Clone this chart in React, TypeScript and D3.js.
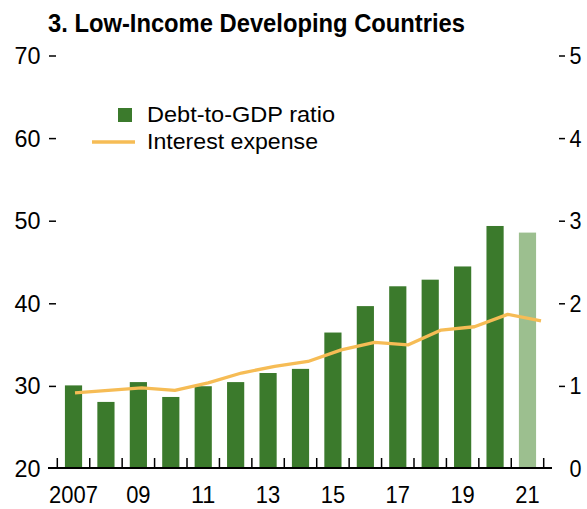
import React from "react";
import * as d3 from "d3";

const years = ["2007","2008","2009","2010","2011","2012","2013","2014","2015","2016","2017","2018","2019","2020","2021"];
const debtToGDP = [30.0, 28.0, 30.4, 28.6, 29.9, 30.4, 31.5, 32.0, 36.4, 39.6, 42.0, 42.8, 44.4, 49.3, 48.5];
const interestExpense = [0.91, 0.94, 0.97, 0.94, 1.03, 1.15, 1.23, 1.29, 1.43, 1.52, 1.49, 1.67, 1.71, 1.86, 1.78];
const xTickLabels: Record<string, string> = { "2007": "2007", "2009": "09", "2011": "11", "2013": "13", "2015": "15", "2017": "17", "2019": "19", "2021": "21" };
const leftTicks = [20, 30, 40, 50, 60, 70];
const rightTicks = [0, 1, 2, 3, 4, 5];
const title = "3. Low-Income Developing Countries";
const legendLabels = ["Debt-to-GDP ratio", "Interest expense"];
const projectionYear = "2021";

const W = 587, H = 509;
const FONT = "'Liberation Sans Narrow', 'Arial Narrow', 'Liberation Sans', Arial, sans-serif";
const GREEN = "#3b7a2c";
const LIGHT_GREEN = "#9cbf8f";
const ORANGE = "#f6bc55";
const DIGIT_W = 12.2;
const AX_FS = 24.5;

export default function App() {
  const x = d3.scaleBand<string>().domain(years).range([57.3, 543.7]).paddingInner(0.47).paddingOuter(0.235);
  const xLine = d3.scalePoint<string>().domain(years).range([75, 541]);
  const yL = d3.scaleLinear().domain([20, 70]).range([468, 55]);
  const yR = d3.scaleLinear().domain([0, 5]).range([468, 55]);
  const step = x.step();
  const r0 = x.range()[0];
  const boundaries = d3.range(years.length + 1).map((i) => r0 + i * step);
  const line = d3.line<number>().x((_, i) => xLine(years[i]) as number).y((d) => yR(d));

  return (
    <svg width={W} height={H} style={{ position: "absolute", left: 0, top: 0, background: "#fff" }} fontFamily={FONT}>
      <text x={48} y={31.5} fontSize={25} fontWeight="bold" textLength={417} lengthAdjust="spacingAndGlyphs">{title}</text>

      {years.map((yr, i) => (
        <rect key={yr} x={x(yr)} width={x.bandwidth()} y={yL(debtToGDP[i])} height={yL(20) - yL(debtToGDP[i])}
          fill={yr === projectionYear ? LIGHT_GREEN : GREEN} />
      ))}

      <path d={line(interestExpense) || ""} fill="none" stroke={ORANGE} strokeWidth={3.3} strokeLinejoin="round" />

      <line x1={48} x2={552} y1={468} y2={468} stroke="#000" strokeWidth={2} />
      {boundaries.map((bx, i) => (
        <line key={i} x1={bx} x2={bx} y1={468} y2={458} stroke="#000" strokeWidth={1.5} />
      ))}

      {years.map((yr) => {
        const lab = xTickLabels[yr];
        if (!lab) return null;
        return (
          <text key={yr} x={(x(yr) as number) + x.bandwidth() / 2} y={502.5} fontSize={AX_FS} textAnchor="middle"
            textLength={lab.length * DIGIT_W} lengthAdjust="spacingAndGlyphs">{lab}</text>
        );
      })}

      {leftTicks.map((t) => (
        <g key={t}>
          <text x={40.5} y={yL(t) + 9} fontSize={AX_FS} textAnchor="end"
            textLength={String(t).length * 13} lengthAdjust="spacingAndGlyphs">{t}</text>
          {t !== 20 && <line x1={49} x2={56} y1={yL(t) + 1} y2={yL(t) + 1} stroke="#000" strokeWidth={1.5} />}
        </g>
      ))}
      {rightTicks.map((t) => (
        <g key={t}>
          <text x={569.5} y={yR(t) + 9} fontSize={AX_FS} textAnchor="start"
            textLength={12} lengthAdjust="spacingAndGlyphs">{t}</text>
          {t !== 0 && <line x1={559} x2={565} y1={yR(t) + 1} y2={yR(t) + 1} stroke="#000" strokeWidth={1.5} />}
        </g>
      ))}

      <rect x={118} y={108} width={14} height={14} fill={GREEN} />
      <text x={147} y={122} fontSize={21.5} textLength={188} lengthAdjust="spacingAndGlyphs">{legendLabels[0]}</text>
      <line x1={92} x2={135} y1={142} y2={142} stroke={ORANGE} strokeWidth={3.3} />
      <text x={147} y={149} fontSize={21.5} textLength={171} lengthAdjust="spacingAndGlyphs">{legendLabels[1]}</text>
    </svg>
  );
}
